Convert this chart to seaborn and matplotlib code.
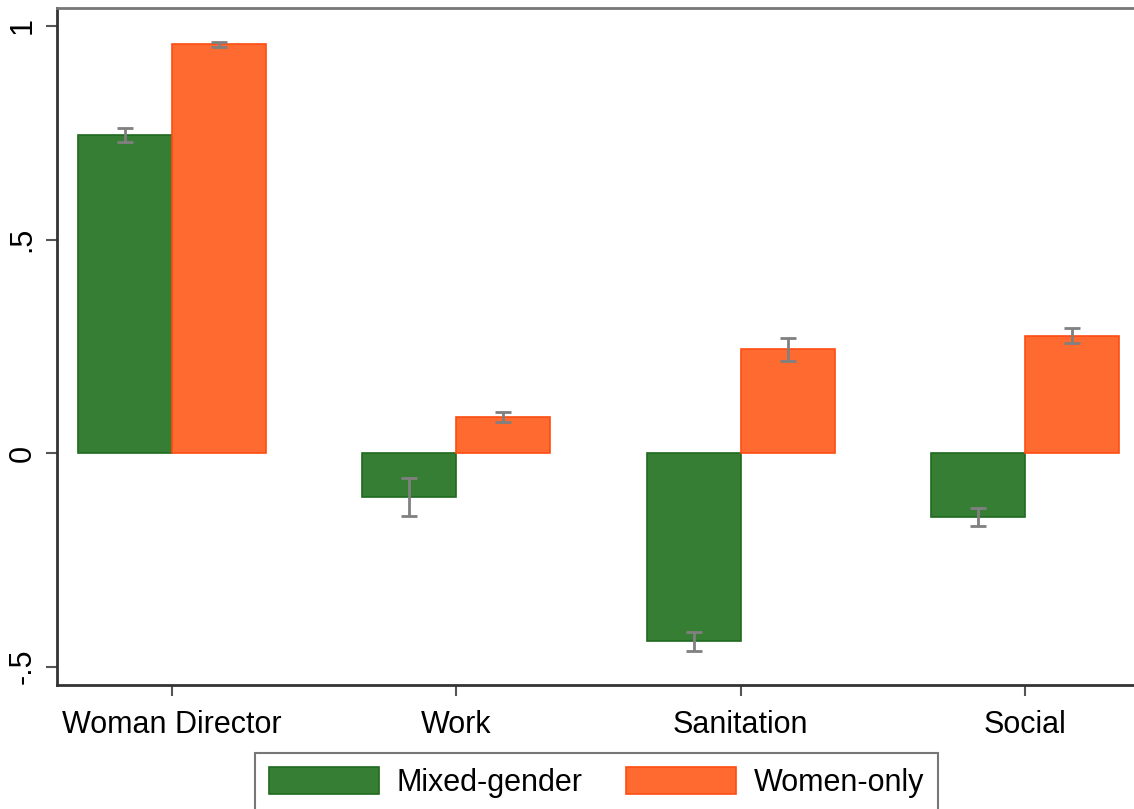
import matplotlib
matplotlib.use("Agg")
import matplotlib.pyplot as plt
from matplotlib.container import BarContainer
from matplotlib.patches import Patch
import seaborn as sns
import pandas as pd
import numpy as np

categories = ["Woman Director", "Work", "Sanitation", "Social"]
groups = ["Mixed-gender", "Women-only"]
mixed_vals = [0.745, -0.103, -0.441, -0.149]
women_vals = [0.957, 0.084, 0.243, 0.275]
mixed_err = [0.016, 0.045, 0.022, 0.021]
women_err = [0.006, 0.012, 0.027, 0.017]
ytick_vals = [-0.5, 0, 0.5, 1]
ytick_labels = ["-.5", "0", ".5", "1"]

sns.set_style("white")
plt.rcParams['font.family'] = ['Liberation Sans', 'DejaVu Sans']
plt.rcParams['text.color'] = 'black'
plt.rcParams['xtick.color'] = 'black'
plt.rcParams['ytick.color'] = 'black'

df = pd.DataFrame({
    "category": categories * 2,
    "group": [groups[0]] * 4 + [groups[1]] * 4,
    "value": mixed_vals + women_vals,
})

fig = plt.figure(figsize=(11.34, 8.09), dpi=100)
ax = fig.add_axes([57 / 1134, 1 - 685 / 809, 1 - 57 / 1134, (685 - 8) / 809])

palette = {"Mixed-gender": "#367e34", "Women-only": "#ff6a30"}
edges = {"Mixed-gender": "#1f6a1f", "Women-only": "#ff4d12"}
sns.barplot(data=df, x="category", y="value", hue="group", order=categories,
            hue_order=groups, palette=palette, width=0.66, gap=0,
            errorbar=None, ax=ax, legend=False, saturation=1)

errs = [mixed_err, women_err]
bar_conts = [c for c in ax.containers if isinstance(c, BarContainer)]
for gi, cont in enumerate(bar_conts):
    for bi, bar in enumerate(cont):
        bar.set_edgecolor(edges[groups[gi]])
        bar.set_linewidth(1.2)
        cx = bar.get_x() + bar.get_width() / 2
        h = bar.get_height()
        ax.errorbar(cx, h, yerr=errs[gi][bi], color="#808080", lw=2,
                    capsize=5.5, capthick=2, zorder=5)

ax.set_xlim(-0.404, 3.383)
ax.set_ylim(-0.543, 1.042)
ax.set_yticks(ytick_vals)
ax.set_yticklabels(ytick_labels, rotation=90, va="center", fontsize=22)
ax.tick_params(axis="x", labelsize=22, length=8, width=1.5, color="#555555",
               labelcolor="black", direction="out", bottom=True, pad=10)
ax.tick_params(axis="y", length=8, width=1.5, color="#555555",
               labelcolor="black", direction="out", left=True, pad=6)
ax.set_xlabel("")
ax.set_ylabel("")

for side in ["left", "bottom", "top"]:
    ax.spines[side].set_visible(True)
    ax.spines[side].set_linewidth(2)
ax.spines["left"].set_color("#333333")
ax.spines["bottom"].set_color("#333333")
ax.spines["top"].set_color("#777777")
ax.spines["right"].set_visible(False)

handles = [Patch(facecolor=palette[g], edgecolor=edges[g], linewidth=1.2) for g in groups]
leg = fig.legend(handles, groups, loc="upper center",
                 bbox_to_anchor=(596.5 / 1134, 1 - 753 / 809), ncol=2,
                 fontsize=22, frameon=True, fancybox=False, edgecolor="#555555",
                 handlelength=3.6, handleheight=1.0, handletextpad=0.6,
                 columnspacing=1.4, borderpad=0.45, borderaxespad=0)
leg.get_frame().set_linewidth(1.5)
for t in leg.get_texts():
    t.set_color("black")

fig.savefig("out.png", dpi=100)
